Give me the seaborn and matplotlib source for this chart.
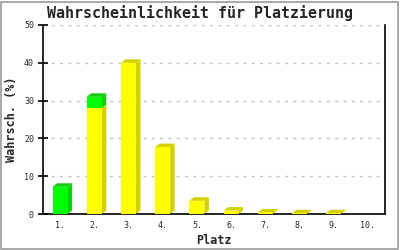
import numpy as np
import pandas as pd
import seaborn as sns
import matplotlib
matplotlib.use("Agg")
import matplotlib.pyplot as plt
from matplotlib.patches import Polygon, Rectangle

# ---- data ----
platz = ["1.", "2.", "3.", "4.", "5.", "6.", "7.", "8.", "9.", "10."]
gelb = [0.0, 28.0, 40.0, 17.7, 3.5, 0.9, 0.4, 0.2, 0.2, 0.0]   # yellow part
gruen = [7.2, 3.0, 0.0, 0.0, 0.0, 0.0, 0.0, 0.0, 0.0, 0.0]     # green part on top
yticks = [0, 10, 20, 30, 40, 50]

title = "Wahrscheinlichkeit für Platzierung"
xlabel = "Platz"
ylabel = "Wahrsch. (%)"

YEL, YEL_D = "#ffff00", "#d4d000"
GRN, GRN_D = "#00ff00", "#11cc11"

sns.set_style("white")
plt.rcParams["font.family"] = ["DejaVu Sans Mono", "DejaVu Sans"]

fig = plt.figure(figsize=(4, 2.5), dpi=100)
ax = fig.add_axes([43 / 400, 36 / 250, 342 / 400, 189 / 250])

total = [g + y for g, y in zip(gelb, gruen)]
df = pd.DataFrame({"Platz": platz, "total": total, "gelb": gelb})

W = 0.44
sns.barplot(data=df, x="Platz", y="total", color=GRN, width=W, saturation=1,
            ax=ax, zorder=3, linewidth=0)
n_tot = len(ax.patches)
sns.barplot(data=df, x="Platz", y="gelb", color=YEL, width=W, saturation=1,
            ax=ax, zorder=3, linewidth=0)
tot_patches = ax.patches[:n_tot]
yel_patches = ax.patches[n_tot:]

ax.set_xlim(-0.5, len(platz) - 0.5)
ax.set_ylim(0, 50)

# 3-D depth offsets (pixels -> data)
inv = ax.transData.inverted()
p0 = inv.transform(ax.transData.transform((0, 0)))
p1 = inv.transform(ax.transData.transform((0, 0)) + np.array([4.5, 3.5]))
dx, dy = p1 - p0


def faces(x0, x1, yb, yt, side_col, top_col, top=True):
    side = Polygon([(x1, yb), (x1 + dx, yb + dy), (x1 + dx, yt + dy), (x1, yt)],
                   closed=True, facecolor=side_col, edgecolor="none",
                   zorder=2.5, clip_on=False)
    ax.add_patch(side)
    if top:
        tp = Polygon([(x0, yt), (x0 + dx, yt + dy), (x1 + dx, yt + dy), (x1, yt)],
                     closed=True, facecolor=top_col, edgecolor="none",
                     zorder=2.5, clip_on=False)
        ax.add_patch(tp)


for pt, py, g, y in zip(tot_patches, yel_patches, gruen, gelb):
    x0 = pt.get_x()
    x1 = x0 + pt.get_width()
    if pt.get_height() <= 0:
        continue
    if g > 0:
        faces(x0, x1, py.get_height(), pt.get_height(), GRN_D, GRN_D, top=True)
    if py.get_height() > 0:
        faces(x0, x1, 0, py.get_height(), YEL_D, YEL_D, top=(g == 0))

# grid
ax.set_yticks(yticks)
ax.yaxis.grid(True, color="#c0c0c0", linestyle=(0, (2, 4)), linewidth=1, zorder=0)
ax.xaxis.grid(False)
ax.set_axisbelow(True)

for s in ["left", "bottom", "right"]:
    ax.spines[s].set_visible(True)
    ax.spines[s].set_color("black")
    ax.spines[s].set_linewidth(1.2)
ax.spines["top"].set_visible(False)

ax.tick_params(axis="y", direction="inout", length=7, width=1.2, color="black",
               labelsize=6, pad=3, left=True)
ax.tick_params(axis="x", length=0, labelsize=6, pad=5)
ax.set_xlabel(xlabel, fontsize=8.5, fontweight="bold")
ax.set_ylabel(ylabel, fontsize=8.5, fontweight="bold")
ax.xaxis.set_label_coords(0.5, (214 - 240) / 189)
ax.yaxis.set_label_coords((12 - 43) / 342, 0.5)
ax.xaxis.label.set_va("center")
ax.yaxis.label.set_va("center")

fig.text(0.5, 1 - 13 / 250, title, ha="center", va="center", fontsize=10.8,
         fontweight="bold")

fig.patches.append(Rectangle((0.5 / 400, 1.5 / 250), 397.5 / 400, 247 / 250,
                             transform=fig.transFigure, fill=False,
                             edgecolor="#999999", linewidth=1.2))

fig.savefig("out.png", dpi=100)
